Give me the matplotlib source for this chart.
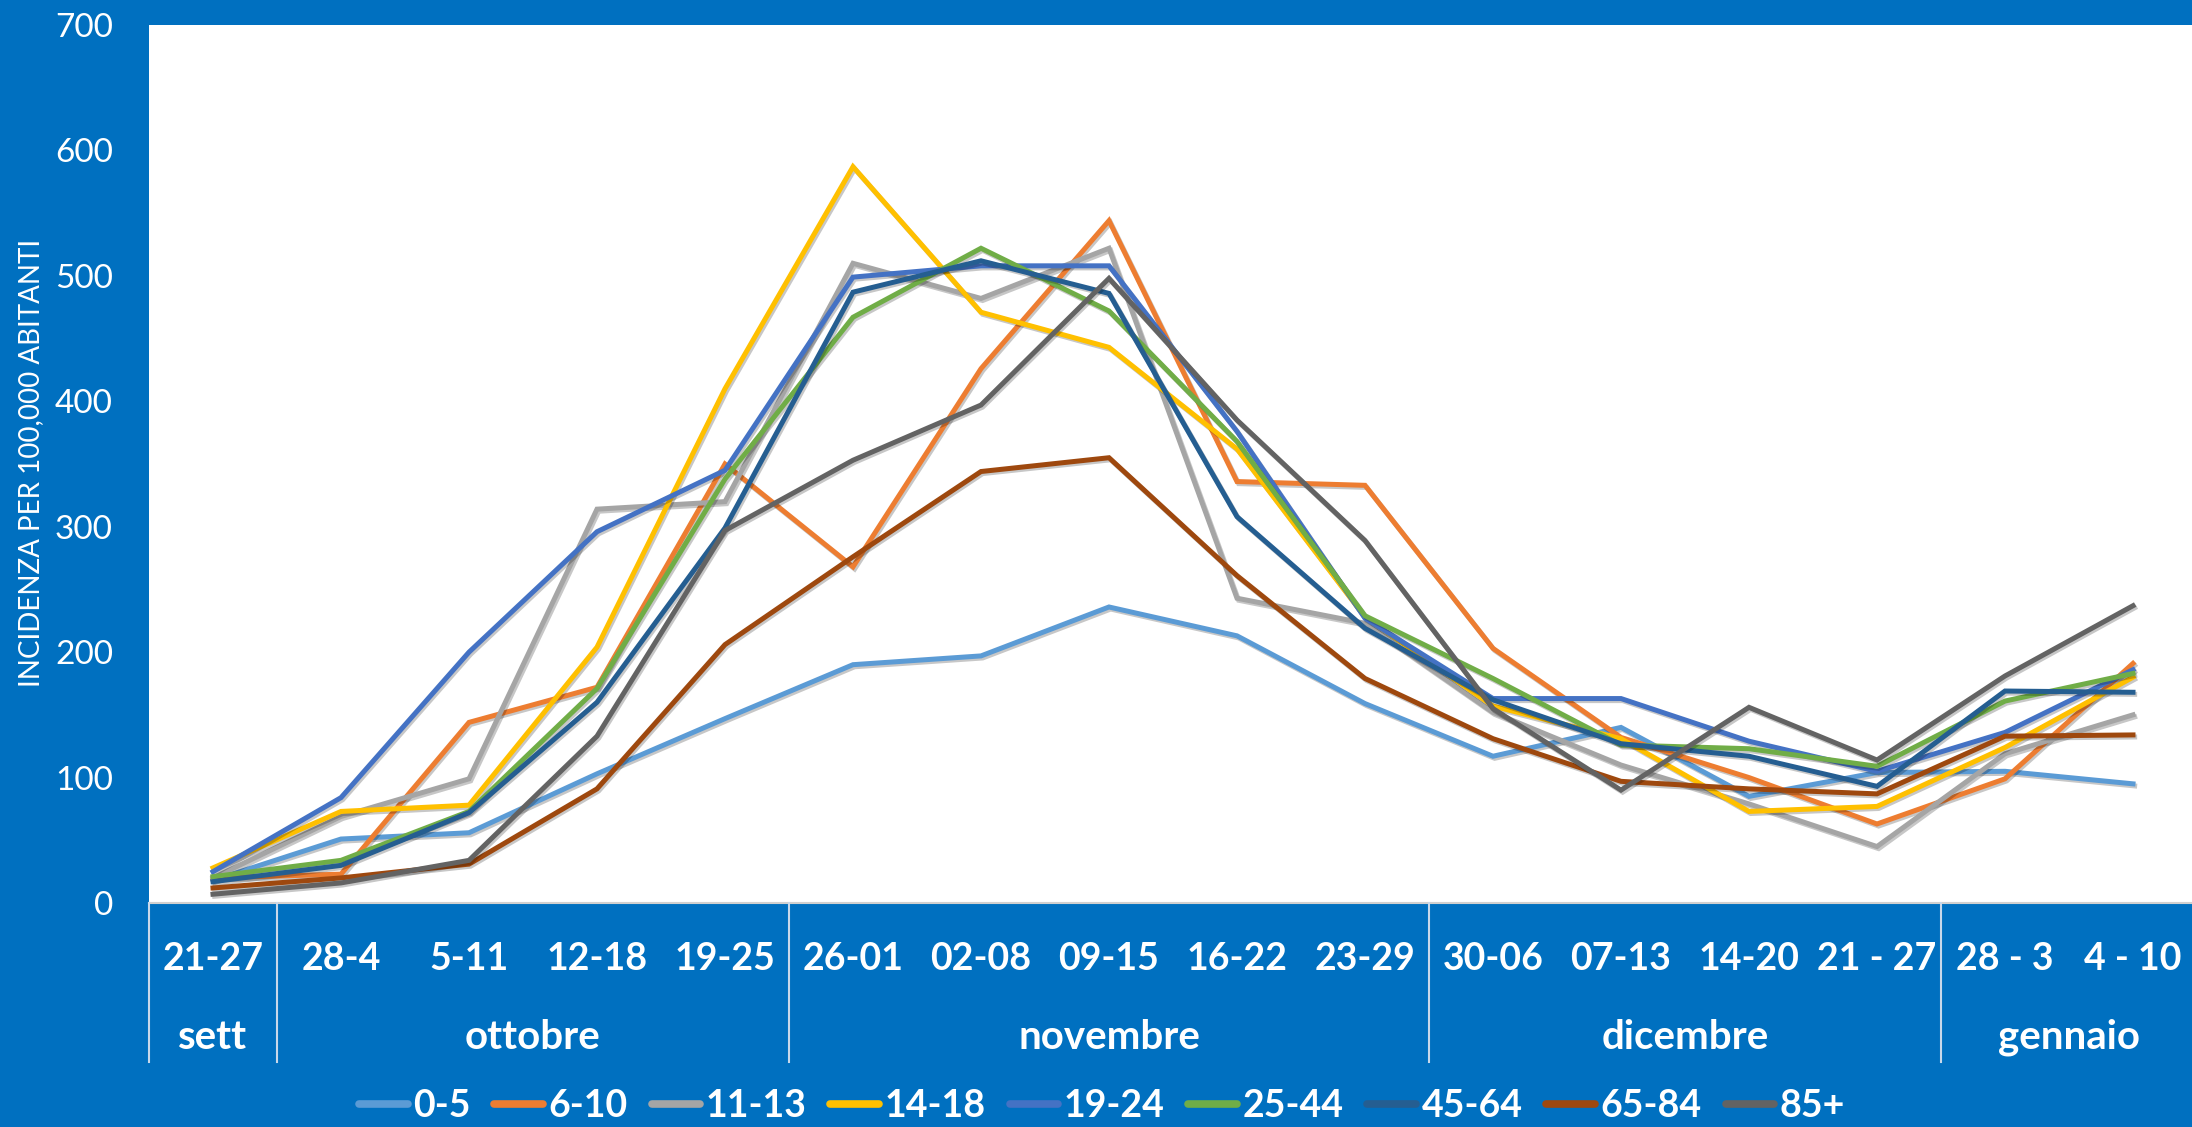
import matplotlib
matplotlib.use("Agg")
import matplotlib.pyplot as plt
import matplotlib.patheffects as pe
from matplotlib.transforms import blended_transform_factory
from matplotlib.lines import Line2D

plt.rcParams['font.family'] = ['Lato', 'DejaVu Sans']

weeks = ["21-27", "28-4", "5-11", "12-18", "19-25", "26-01", "02-08", "09-15",
         "16-22", "23-29", "30-06", "07-13", "14-20", "21 - 27", "28 - 3", "4 - 10"]
months = ["sett", "ottobre", "novembre", "dicembre", "gennaio"]
month_sizes = [1, 4, 5, 4, 2]

series_names = ["0-5", "6-10", "11-13", "14-18", "19-24", "25-44", "45-64", "65-84", "85+"]
s_0_5   = [18, 51, 56, 103, 147, 190, 197, 236, 213, 159, 117, 140, 85, 104, 105, 95]
s_6_10  = [20, 23, 144, 172, 350, 268, 426, 544, 336, 333, 203, 132, 100, 63, 99, 191]
s_11_13 = [20, 69, 99, 314, 320, 510, 482, 522, 243, 223, 152, 110, 79, 45, 119, 150]
s_14_18 = [28, 73, 78, 204, 410, 587, 471, 443, 362, 228, 157, 131, 73, 77, 124, 180]
s_19_24 = [25, 84, 200, 296, 345, 499, 508, 508, 376, 227, 163, 163, 129, 105, 136, 186]
s_25_44 = [21, 34, 73, 171, 338, 467, 522, 472, 368, 229, 179, 126, 123, 109, 161, 183]
s_45_64 = [17, 30, 72, 160, 299, 487, 512, 486, 308, 219, 162, 127, 117, 93, 169, 168]
s_65_84 = [12, 20, 31, 91, 206, 276, 344, 355, 261, 179, 131, 97, 91, 87, 133, 134]
s_85    = [7, 16, 34, 133, 297, 353, 397, 498, 385, 289, 155, 90, 156, 114, 181, 237]
series = [s_0_5, s_6_10, s_11_13, s_14_18, s_19_24, s_25_44, s_45_64, s_65_84, s_85]
colors = ["#5B9BD5", "#ED7D31", "#A5A5A5", "#FFC000", "#4472C4",
          "#70AD47", "#255E91", "#9E480E", "#636363"]

BG = "#0070C0"
W, H = 2192, 1127
fig = plt.figure(figsize=(W / 100, H / 100), dpi=100, facecolor=BG)

left_px, right_px, top_px, bot_px = 149, 2197, 25, 903
ax = fig.add_axes([left_px / W, 1 - bot_px / H, (right_px - left_px) / W, (bot_px - top_px) / H])
ax.set_facecolor("white")

x = list(range(len(weeks)))
for name, vals, c in zip(series_names, series, colors):
    ax.plot(x, vals, color=c, lw=3.6, label=name, solid_joinstyle='miter',
            path_effects=[pe.SimpleLineShadow(offset=(1.2, -1.5), shadow_color='k', alpha=0.22),
                          pe.Normal()])

ax.set_xlim(-0.5, len(weeks) - 0.5)
ax.set_ylim(0, 700)
ax.set_yticks(range(0, 701, 100))
ax.tick_params(axis='y', length=0, pad=26, labelsize=24, labelcolor='white')
for sp in ['top', 'right', 'left']:
    ax.spines[sp].set_visible(False)
ax.spines['bottom'].set_color('#D0D0D0')
ax.spines['bottom'].set_linewidth(1.5)
ax.set_xticks([])

trans = blended_transform_factory(ax.transData, fig.transFigure)
for i, w in enumerate(weeks):
    ax.text(i, 1 - 970 / H, w, transform=trans, ha='center', va='baseline',
            fontsize=27, fontweight='bold', color='white')
start = 0
bounds = [-0.5]
for m, n in zip(months, month_sizes):
    center = start + (n - 1) / 2
    ax.text(center, 1 - 1049 / H, m, transform=trans, ha='center', va='baseline',
            fontsize=29, fontweight='bold', color='white')
    start += n
    bounds.append(start - 0.5)
for b in bounds[:-1]:
    ln = Line2D([b, b], [1 - 903 / H, 1 - 1062 / H], transform=trans, color='#C8D8EA',
                lw=1.5, clip_on=False)
    fig.add_artist(ln)

fig.text(31 / W, 1 - 463 / H, "INCIDENZA PER 100,000 ABITANTI", rotation=90,
         ha='center', va='center', fontsize=20, color='white')

handles = [Line2D([], [], color=c, lw=5.5, solid_capstyle='round') for c in colors]
fig.legend(handles, series_names, loc='center', bbox_to_anchor=(1102 / W, 1 - 1106 / H),
           ncol=9, frameon=False, handlelength=1.3, handletextpad=0.15,
           columnspacing=0.63, labelcolor='white', prop={'weight': 'bold', 'size': 27})

fig.savefig("out.png", dpi=100, facecolor=BG)
